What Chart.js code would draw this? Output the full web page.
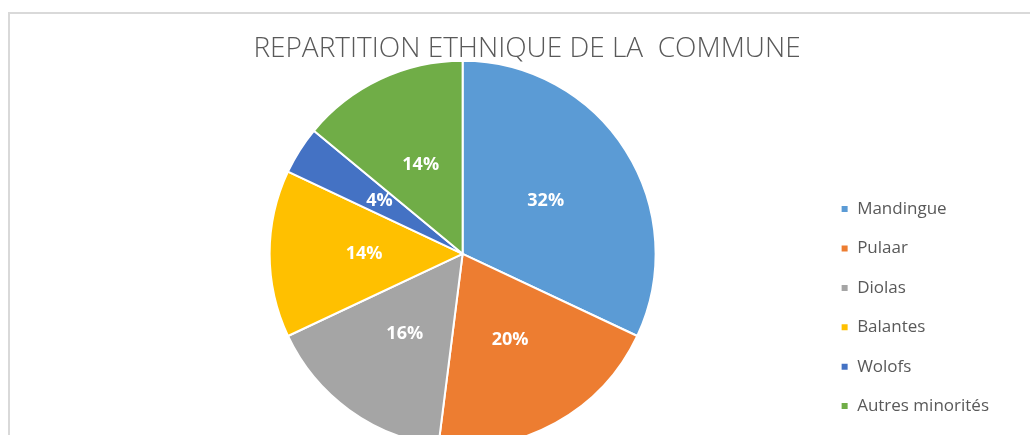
<!DOCTYPE html>
<html>
<head>
<meta charset="utf-8">
<script src="https://cdn.jsdelivr.net/npm/chart.js@4.4.0/dist/chart.umd.min.js"></script>
<style>
    html, body { margin: 0; padding: 0; background: #fff; overflow: hidden; }
    #frame { position: absolute; left: 8px; top: 12px; width: 1100px; height: 500px;
             border-left: 2px solid #d9d9d9; border-top: 2px solid #d9d9d9; }
    #chart { position: absolute; left: 0; top: 0; }
</style>
</head>
<body>
<div id="frame"></div>
<canvas id="chart" width="1030" height="435"></canvas>
<script>
const categories = ['Mandingue', 'Pulaar', 'Diolas', 'Balantes', 'Wolofs', 'Autres minorités'];
const shares = [32, 20, 16, 14, 4, 14];
const sliceColors = ['#5B9BD5', '#ED7D31', '#A5A5A5', '#FFC000', '#4472C4', '#70AD47'];

// percentage labels inside the slices
const pieLabels = {
    id: 'pieLabels',
    afterDatasetsDraw(chart) {
        const ctx = chart.ctx;
        const meta = chart.getDatasetMeta(0);
        const total = shares.reduce((sum, v) => sum + v, 0);
        ctx.save();
        ctx.font = 'bold 18px "Open Sans"';
        ctx.fillStyle = '#ffffff';
        ctx.textAlign = 'center';
        ctx.textBaseline = 'middle';
        meta.data.forEach((arc, i) => {
            const p = arc.getProps(['x', 'y', 'startAngle', 'endAngle', 'outerRadius'], true);
            const mid = (p.startAngle + p.endAngle) / 2;
            const r = p.outerRadius * 0.51;
            ctx.fillText(Math.round(shares[i] / total * 100) + '%', p.x + Math.cos(mid) * r, p.y + Math.sin(mid) * r);
        });
        ctx.restore();
    }
};

// title is centred on the whole frame, not on the plot area
const shiftTitle = {
    id: 'shiftTitle',
    afterLayout(chart) {
        const t = chart.titleBlock;
        t.left = 0;
        t.right = 1054;
    }
};

new Chart(document.getElementById('chart'), {
    type: 'pie',
    data: {
        labels: categories,
        datasets: [{
            data: shares,
            backgroundColor: sliceColors,
            borderColor: '#ffffff',
            borderWidth: 2,
            radius: 193
        }]
    },
    options: {
        responsive: false,
        animation: false,
        layout: {
            padding: { left: 107, right: 31, top: 0, bottom: -2 }
        },
        plugins: {
            title: {
                display: true,
                text: 'REPARTITION ETHNIQUE DE LA  COMMUNE',
                color: '#595959',
                font: { family: 'Open Sans', size: 28, weight: '300' },
                padding: { top: 32, bottom: 7 }
            },
            legend: {
                position: 'right',
                align: 'end',
                labels: {
                    boxWidth: 8,
                    boxHeight: 8,
                    padding: 22.4,
                    color: '#595959',
                    font: { family: 'Open Sans', size: 17 }
                }
            },
            tooltip: { enabled: false }
        }
    },
    plugins: [pieLabels, shiftTitle]
});
</script>
</body>
</html>
